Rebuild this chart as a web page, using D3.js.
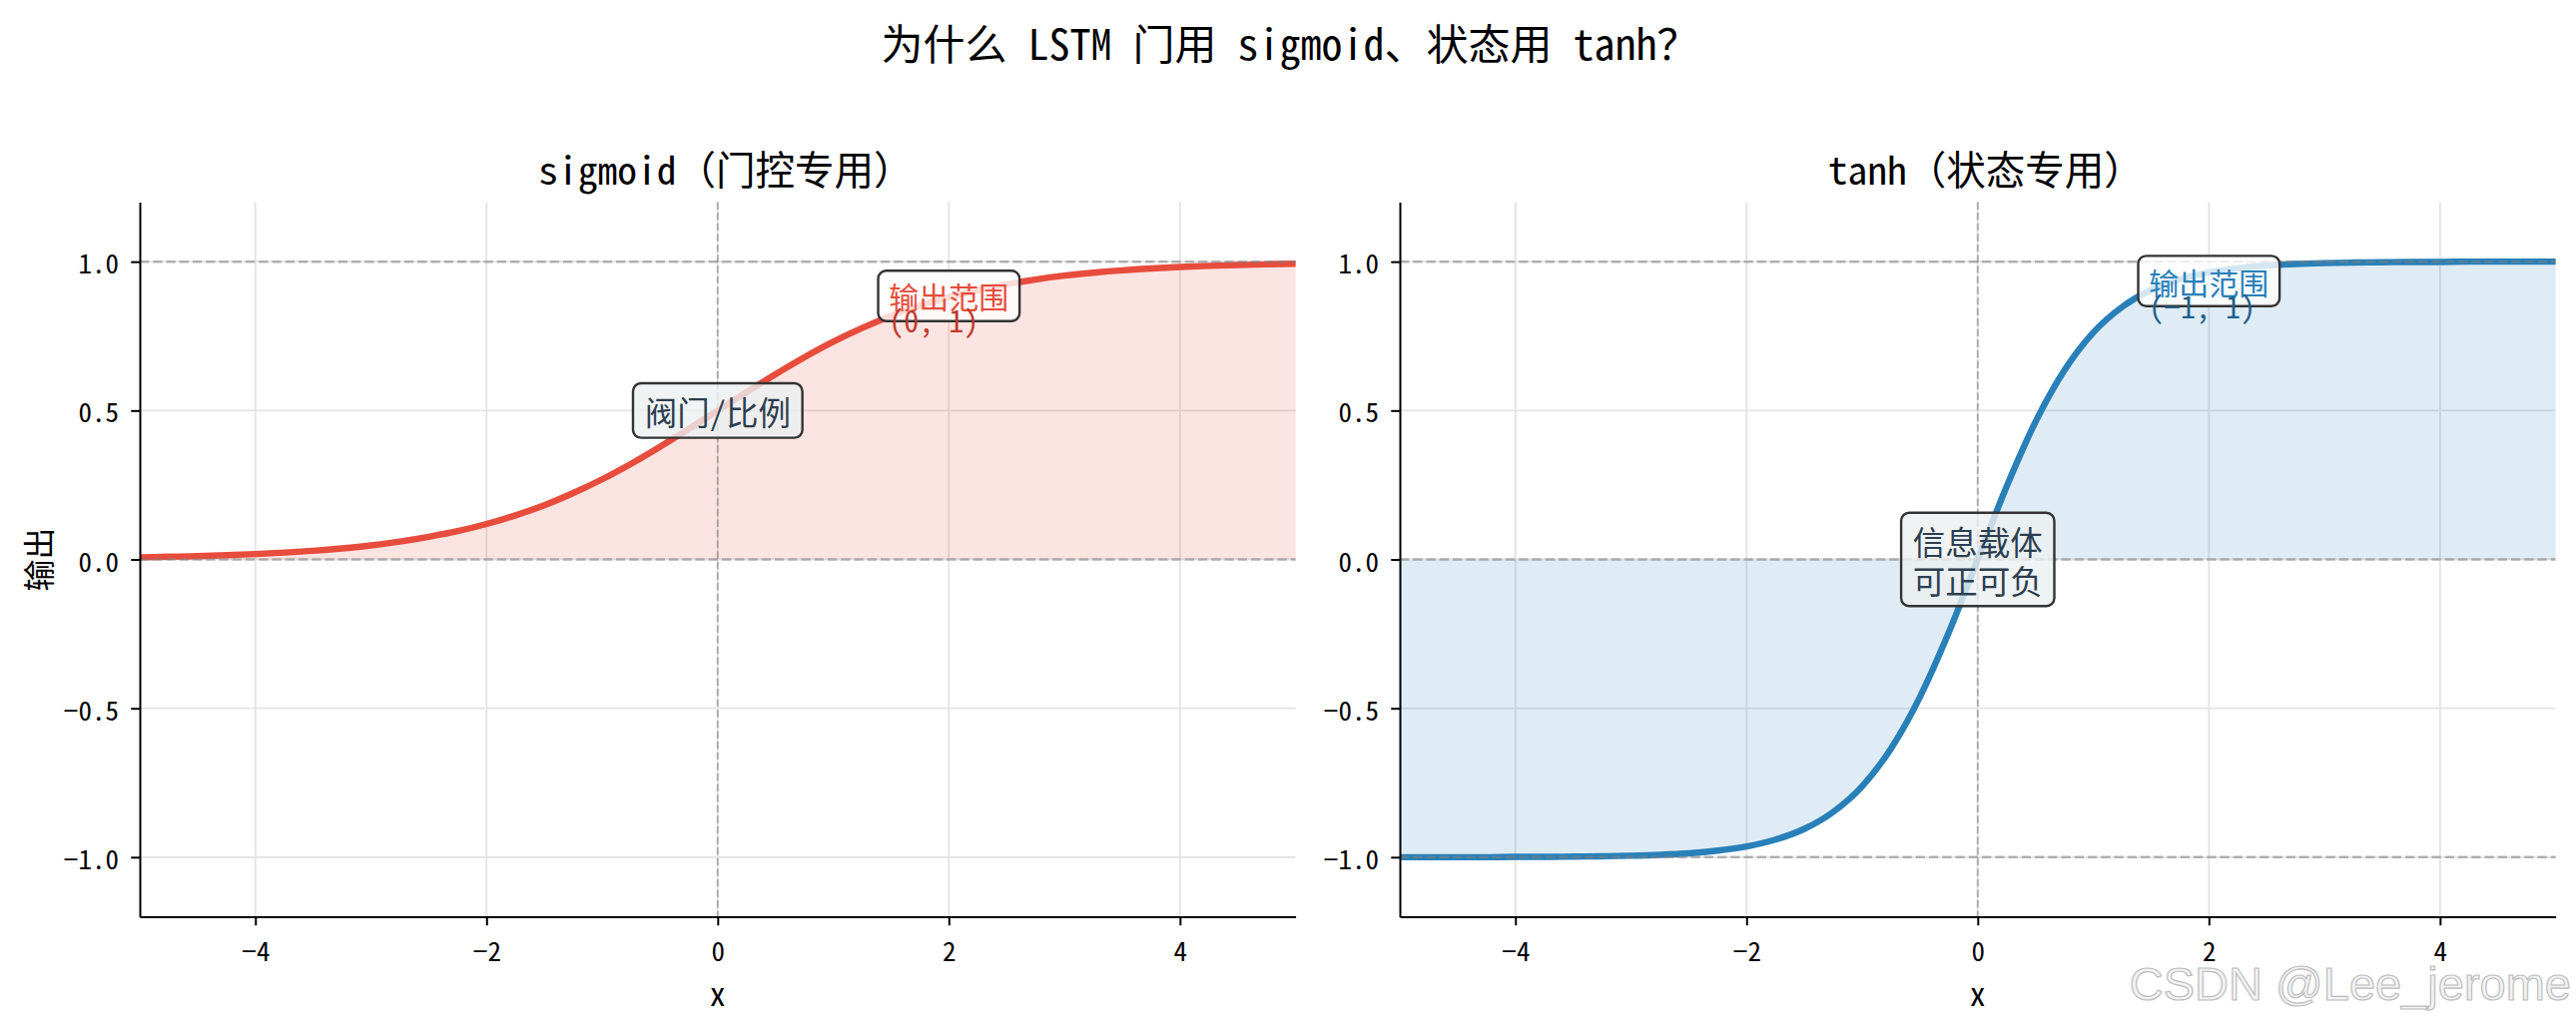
<!DOCTYPE html>
<html>
<head>
<meta charset="utf-8">
<script src="https://cdn.jsdelivr.net/npm/d3@7"></script>
<style>
  body { margin: 0; background: #fff; }
  svg text { font-family: "Noto Sans Mono CJK SC", "Noto Sans CJK SC", sans-serif; }
</style>
</head>
<body>
<div id="chart"></div>
<script>
// values
const xValues = [-5, -4.75, -4.5, -4.25, -4, -3.75, -3.5, -3.25, -3, -2.75, -2.5, -2.25, -2, -1.75, -1.5, -1.25, -1, -0.75, -0.5, -0.25,
  0, 0.25, 0.5, 0.75, 1, 1.25, 1.5, 1.75, 2, 2.25, 2.5, 2.75, 3, 3.25, 3.5, 3.75, 4, 4.25, 4.5, 4.75, 5];
const sigmoidValues = [0.007, 0.009, 0.011, 0.014, 0.018, 0.023, 0.029, 0.037, 0.047, 0.060, 0.076, 0.095, 0.119, 0.148, 0.182, 0.223, 0.269, 0.321, 0.378, 0.438,
  0.500, 0.562, 0.622, 0.679, 0.731, 0.777, 0.818, 0.852, 0.881, 0.905, 0.924, 0.940, 0.953, 0.963, 0.971, 0.977, 0.982, 0.986, 0.989, 0.991, 0.993];
const tanhValues = [-1.000, -1.000, -1.000, -1.000, -0.999, -0.999, -0.998, -0.997, -0.995, -0.992, -0.987, -0.978, -0.964, -0.941, -0.905, -0.848, -0.762, -0.635, -0.462, -0.245,
  0.000, 0.245, 0.462, 0.635, 0.762, 0.848, 0.905, 0.941, 0.964, 0.978, 0.987, 0.992, 0.995, 0.997, 0.998, 0.999, 0.999, 1.000, 1.000, 1.000, 1.000];

const xTicks = [-4, -2, 0, 2, 4];
const yTicks = [-1, -0.5, 0, 0.5, 1];
const suptitle = "为什么 LSTM 门用 sigmoid、状态用 tanh？";
const panelTitles = ["sigmoid（门控专用）", "tanh（状态专用）"];
const sigmoidRefLines = [0, 1];
const tanhRefLines = [-1, 0, 1];

const noteLines = [["阀门/比例"], ["输出范围", "(0, 1)"], ["信息载体", "可正可负"], ["输出范围", "(−1, 1)"]];
const notePanel = [0, 0, 1, 1];
const noteX = [0, 2, 0, 2];
const noteY = [0.5, 0.885, 0, 0.935];

const width = 2580, height = 1030;
const plotTop = 202.5, plotBottom = 918.5;

const svg = d3.select("#chart").append("svg")
  .attr("width", width).attr("height", height)
  .attr("viewBox", `0 0 ${width} ${height}`);

svg.append("text")
  .attr("x", 1292).attr("y", 41)
  .attr("text-anchor", "middle")
  .attr("dominant-baseline", "central")
  .style("font-size", "42px")
  .text(suptitle);

const panels = [
  { left: 140, right: 1297.6, values: sigmoidValues, color: "#e74c3c", title: panelTitles[0], refs: sigmoidRefLines, ylabel: "输出" },
  { left: 1402, right: 2559.6, values: tanhValues, color: "#2980b9", title: panelTitles[1], refs: tanhRefLines, ylabel: null }
];

// note styles, by note index
const noteStyle = [
  { size: 32.5, color: "#2c3e50", color2: "#2c3e50", face: "#ecf0f1", boxed: 1, step: 1.2 },
  { size: 30, color: "#e74c3c", color2: "#c0392b", face: "#ffffff", boxed: 1, step: 0.78 },
  { size: 32.5, color: "#2c3e50", color2: "#2c3e50", face: "#ecf0f1", boxed: 2, step: 1.2 },
  { size: 30, color: "#2980b9", color2: "#1f618d", face: "#ffffff", boxed: 1, step: 0.8 }
];

panels.forEach((p, pi) => {
  const x = d3.scaleLinear().domain([-5, 5]).range([p.left, p.right]);
  const y = d3.scaleLinear().domain([-1.2, 1.2]).range([plotBottom, plotTop]);
  const g = svg.append("g");

  // grid
  g.append("g").selectAll("line").data(xTicks).join("line")
    .attr("x1", d => x(d)).attr("x2", d => x(d))
    .attr("y1", plotTop).attr("y2", plotBottom)
    .attr("stroke", "#e3e3e3").attr("stroke-width", 1.8);
  g.append("g").selectAll("line").data(yTicks).join("line")
    .attr("x1", p.left).attr("x2", p.right)
    .attr("y1", d => y(d)).attr("y2", d => y(d))
    .attr("stroke", "#e3e3e3").attr("stroke-width", 1.8);

  const pts = xValues.map((xv, i) => [xv, p.values[i]]);

  g.append("path")
    .datum(pts)
    .attr("fill", p.color).attr("fill-opacity", 0.15)
    .attr("d", d3.area().x(d => x(d[0])).y0(y(0)).y1(d => y(d[1])).curve(d3.curveMonotoneX));

  g.append("path")
    .datum(pts)
    .attr("fill", "none").attr("stroke", p.color).attr("stroke-width", 6.4)
    .attr("d", d3.line().x(d => x(d[0])).y(d => y(d[1])).curve(d3.curveMonotoneX));

  // dashed reference lines
  g.append("g").selectAll("line").data(p.refs).join("line")
    .attr("x1", p.left).attr("x2", p.right)
    .attr("y1", d => y(d)).attr("y2", d => y(d))
    .attr("stroke", "#808080").attr("stroke-opacity", 0.55).attr("stroke-width", 2.5)
    .attr("stroke-dasharray", "9.25 4");
  g.append("line")
    .attr("x1", x(0)).attr("x2", x(0)).attr("y1", plotTop).attr("y2", plotBottom)
    .attr("stroke", "#808080").attr("stroke-opacity", 0.55).attr("stroke-width", 2)
    .attr("stroke-dasharray", "7.4 3.2");

  // axes
  const fmt = d => d3.format(".1f")(d);
  const xAxis = g.append("g").attr("transform", `translate(0,${plotBottom})`)
    .call(d3.axisBottom(x).tickValues(xTicks).tickSize(8.75).tickSizeOuter(0));
  const yAxis = g.append("g").attr("transform", `translate(${p.left},0)`)
    .call(d3.axisLeft(y).tickValues(yTicks).tickFormat(fmt).tickSize(8.75).tickSizeOuter(0));
  [xAxis, yAxis].forEach(ax => {
    ax.attr("font-family", null).attr("font-size", null);
    ax.select(".domain").attr("stroke", "#000").attr("stroke-width", 2);
    ax.selectAll(".tick line").attr("stroke", "#000").attr("stroke-width", 2);
    ax.selectAll(".tick text").attr("fill", "#000").style("font-size", "27px")
      .attr("dy", null).attr("dominant-baseline", "central");
  });
  xAxis.selectAll(".tick text").attr("y", 33);
  yAxis.selectAll(".tick text").attr("x", -21);

  g.append("text")
    .attr("x", (p.left + p.right) / 2 + 8).attr("y", 167)
    .attr("text-anchor", "middle").attr("dominant-baseline", "central")
    .style("font-size", "39.5px")
    .text(p.title);

  g.append("text")
    .attr("x", (p.left + p.right) / 2).attr("y", 994)
    .attr("text-anchor", "middle").attr("dominant-baseline", "central")
    .style("font-size", "32px")
    .text("x");

  if (p.ylabel) {
    g.append("text")
      .attr("transform", `translate(37,${(plotTop + plotBottom) / 2}) rotate(-90)`)
      .attr("text-anchor", "middle").attr("dominant-baseline", "central")
      .style("font-size", "32px")
      .text(p.ylabel);
  }

  // annotations
  noteLines.forEach((lines, ni) => {
    if (notePanel[ni] !== pi) return;
    const st = noteStyle[ni];
    const cx = x(noteX[ni]), cy = y(noteY[ni]);
    const ng = g.append("g");
    const box = ng.append("rect");
    const em = st.size;
    const blockH = (st.boxed - 1) * st.step * em;
    const firstY = cy - blockH / 2;
    const texts = lines.map((t, li) => ng.append("text")
      .attr("y", firstY + li * st.step * em)
      .attr("dominant-baseline", "central")
      .attr("fill", li === 0 ? st.color : st.color2)
      .style("font-size", em + "px")
      .text(t));
    const widths = texts.map(t => t.node().getComputedTextLength());
    const w = d3.max(widths.slice(0, st.boxed));
    texts.forEach(t => t.attr("x", cx - w / 2));
    const px = 0.36 * em, py = 0.34 * em;
    const bh = blockH + em + 2 * py;
    box.attr("x", cx - w / 2 - px).attr("y", cy - bh / 2)
      .attr("width", w + 2 * px).attr("height", bh)
      .attr("rx", 8).attr("ry", 8)
      .attr("fill", st.face).attr("fill-opacity", 0.8)
      .attr("stroke", "#333").attr("stroke-width", 2.4);
  });
});

svg.append("text")
  .attr("x", 2575).attr("y", 1002)
  .attr("text-anchor", "end")
  .style("font-family", "'Liberation Sans', Arial, sans-serif")
  .style("font-size", "47px")
  .attr("fill", "#f3f3f3").attr("stroke", "#bdbdbd").attr("stroke-width", 1.2)
  .text("CSDN @Lee_jerome");
</script>
</body>
</html>
